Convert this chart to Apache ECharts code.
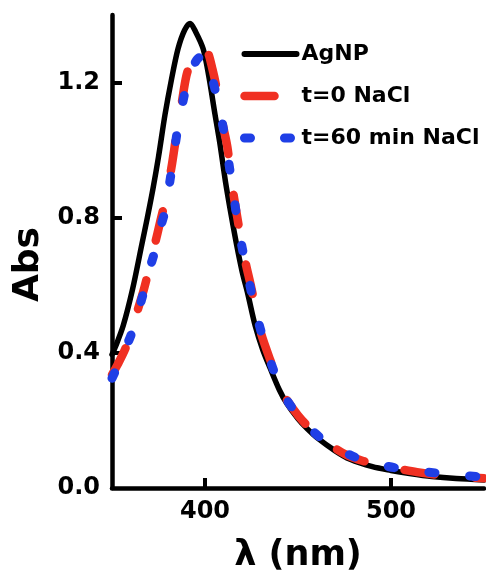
<!DOCTYPE html>
<html>
<head>
<meta charset="utf-8">
<script src="https://cdn.jsdelivr.net/npm/echarts@6/dist/echarts.min.js"></script>
<style>
  html, body { margin: 0; padding: 0; background: #fff; }
  #main { width: 486px; height: 582px; }
</style>
</head>
<body>
<div id="main"></div>
<script>
// wavelength (nm) / absorbance
var agnpX = [350, 352, 356, 361, 366, 369, 372, 375, 378.5, 382, 385.5, 389, 392, 395, 399, 402, 405.4, 408, 411, 414, 417, 420, 423, 427, 431, 435, 440, 444, 450, 455, 460, 470, 478, 490, 500, 510, 522, 535, 550];
var agnpY = [0.395, 0.42, 0.48, 0.587, 0.72, 0.80, 0.885, 0.98, 1.105, 1.21, 1.30, 1.355, 1.375, 1.35, 1.30, 1.22, 1.105, 1.02, 0.907, 0.81, 0.72, 0.64, 0.575, 0.48, 0.41, 0.355, 0.29, 0.25, 0.205, 0.175, 0.15, 0.11, 0.085, 0.063, 0.052, 0.043, 0.034, 0.028, 0.024];

var t0X = [350, 353, 357, 361, 364, 367, 370, 373, 376, 379, 382, 384.5, 387.5, 390, 393, 396, 399, 401.5, 404, 406, 409, 412, 414.5, 418, 421.5, 425, 429.5, 435, 442, 450, 459, 468, 476, 485, 494, 503, 514, 530, 550];
var t0Y = [0.335, 0.365, 0.41, 0.47, 0.53, 0.585, 0.65, 0.72, 0.79, 0.86, 0.95, 1.04, 1.14, 1.22, 1.27, 1.30, 1.305, 1.29, 1.24, 1.19, 1.09, 1.01, 0.90, 0.78, 0.675, 0.59, 0.47, 0.38, 0.28, 0.215, 0.163, 0.125, 0.098, 0.08, 0.068, 0.058, 0.047, 0.036, 0.029];

var t60X = [350, 353, 357, 360.7, 364, 367, 370, 373, 376, 378.5, 382, 385.5, 388, 390, 393, 396, 399, 401, 404, 407, 410, 414.5, 418, 421.5, 427, 433, 442, 450, 459, 468, 481.7, 492, 503, 515, 525, 537, 548, 550];
var t60Y = [0.325, 0.36, 0.41, 0.46, 0.52, 0.58, 0.645, 0.70, 0.77, 0.82, 0.94, 1.07, 1.14, 1.19, 1.24, 1.27, 1.28, 1.26, 1.21, 1.14, 1.06, 0.90, 0.77, 0.67, 0.53, 0.41, 0.28, 0.215, 0.163, 0.125, 0.089, 0.072, 0.059, 0.05, 0.044, 0.038, 0.033, 0.032];

var seriesNames = ['AgNP', 't=0 NaCl', 't=60 min NaCl'];
var xTicks = [400, 500];
var yTicks = [0.4, 0.8, 1.2];
var yLabels = [0, 0.4, 0.8, 1.2];

function pairs(xs, ys) {
    var out = [];
    for (var i = 0; i < xs.length; i++) {
        out.push([xs[i], ys[i]]);
    }
    return out;
}

var font = 'DejaVu Sans';
var red = '#f03022';
var blue = '#1f3fe6';

var blackLine = { color: '#000', width: 5.5, cap: 'round', join: 'round' };
var redLine = { color: red, width: 8.5, type: [30, 41], cap: 'round', join: 'round' };
var blueLine = { color: blue, width: 9, type: [6, 35], cap: 'round', join: 'round' };

var chart = echarts.init(document.getElementById('main'));
var option = {
    animation: false,
    backgroundColor: '#fff',
    grid: { left: 112, right: 2, top: 15, bottom: 94 },
    legend: {
        orient: 'vertical',
        left: 240,
        top: 43,
        padding: 0,
        itemWidth: 52,
        itemHeight: 20,
        itemGap: 20,
        itemStyle: { opacity: 0 },
        textStyle: { fontFamily: font, fontWeight: 'bold', fontSize: 22, color: '#000' },
        data: [
            { name: seriesNames[0], lineStyle: { width: 6, cap: 'round' } },
            { name: seriesNames[1], lineStyle: { width: 8.5, type: [30, 41], cap: 'round' } },
            { name: seriesNames[2], lineStyle: { width: 9, type: [6, 34], cap: 'round' } }
        ]
    },
    xAxis: {
        type: 'value',
        min: 350,
        max: 550,
        name: 'λ (nm)',
        nameLocation: 'middle',
        nameGap: 50,
        nameTextStyle: { fontFamily: font, fontWeight: 'bold', fontSize: 35, color: '#000' },
        splitLine: { show: false },
        axisLine: { lineStyle: { color: '#000', width: 4.5 } },
        axisTick: { inside: true, length: 10, customValues: xTicks, lineStyle: { color: '#000', width: 4 } },
        axisLabel: {
            customValues: xTicks, margin: 12,
            fontFamily: font, fontWeight: 'bold', fontSize: 24, color: '#000'
        }
    },
    yAxis: {
        type: 'value',
        min: 0,
        max: 1.4,
        name: 'Abs',
        nameLocation: 'middle',
        nameGap: 65,
        nameTextStyle: { fontFamily: font, fontWeight: 'bold', fontSize: 36, color: '#000', padding: [0, 26, 0, 0] },
        splitLine: { show: false },
        axisLine: { show: true, lineStyle: { color: '#000', width: 4.5 } },
        axisTick: { show: true, inside: true, length: 10, customValues: yTicks, lineStyle: { color: '#000', width: 4 } },
        axisLabel: {
            customValues: yLabels, margin: 12,
            fontFamily: font, fontWeight: 'bold', fontSize: 24, color: '#000',
            formatter: function (v) { return v.toFixed(1); }
        }
    },
    series: [
        {
            name: seriesNames[0], type: 'line', smooth: 0.3, symbol: 'none', z: 2,
            data: pairs(agnpX, agnpY),
            itemStyle: { color: '#000' },
            lineStyle: blackLine
        },
        {
            name: seriesNames[1], type: 'line', smooth: 0.3, symbol: 'none', z: 3,
            data: pairs(t0X, t0Y),
            itemStyle: { color: red },
            lineStyle: redLine
        },
        {
            name: seriesNames[2], type: 'line', smooth: 0.3, symbol: 'none', z: 4,
            data: pairs(t60X, t60Y),
            itemStyle: { color: blue },
            lineStyle: blueLine
        }
    ]
};
chart.setOption(option);
</script>
</body>
</html>
